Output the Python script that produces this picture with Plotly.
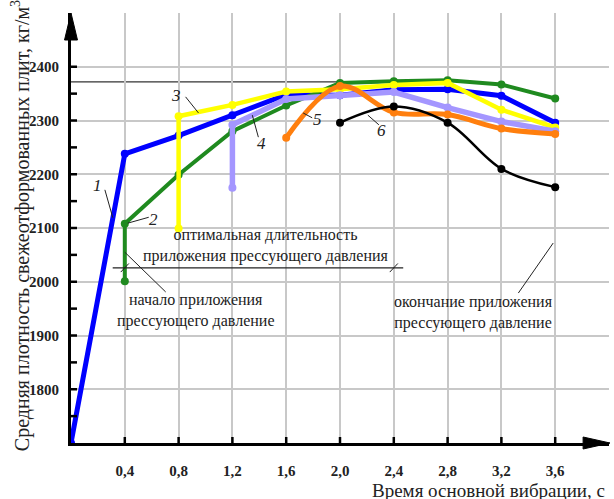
import plotly.graph_objects as go

# ---- data ----
x1 = [0, 0.4, 0.8, 1.2, 1.6, 2.0, 2.4, 2.8, 3.2, 3.6]
y1 = [1700, 2238, 2272, 2310, 2348, 2347, 2357, 2358, 2346, 2296]
x2 = [0.4, 0.4, 0.8, 1.2, 1.6, 2.0, 2.4, 2.8, 3.2, 3.6]
y2 = [2001, 2108, 2199, 2280, 2328, 2370, 2373, 2375, 2367, 2341]
x3 = [0.8, 0.8, 1.2, 1.6, 2.0, 2.4, 2.8, 3.2, 3.6]
y3 = [2099, 2308, 2329, 2354, 2358, 2366, 2370, 2320, 2287]
x4 = [1.2, 1.2, 1.6, 2.0, 2.4, 2.8, 3.2, 3.6]
y4 = [2175, 2292, 2340, 2347, 2353, 2324, 2298, 2280]
x5 = [1.6, 2.0, 2.4, 2.8, 3.2, 3.6]
y5 = [2268, 2364, 2315, 2311, 2285, 2275]
x6 = [2.0, 2.4, 2.8, 3.2, 3.6]
y6 = [2296, 2326, 2296, 2210, 2176]

x_tickvals = [0.4, 0.8, 1.2, 1.6, 2.0, 2.4, 2.8, 3.2, 3.6, 4.0]
x_ticktext = ["0,4", "0,8", "1,2", "1,6", "2,0", "2,4", "2,8", "3,2", "3,6", " "]
y_tickvals = [1800, 1900, 2000, 2100, 2200, 2300, 2400, 2500]
y_ticktext = ["1800", "1900", "2000", "2100", "2200", "2300", "2400", " "]
y_minor = [1750, 1800, 1850, 1900, 1950, 2000, 2050, 2100, 2150, 2200,
           2250, 2300, 2350, 2400]
x_major = [0.4, 0.8, 1.2, 1.6, 2.0, 2.4, 2.8, 3.2, 3.6]

optimal_level = 2372
optimal_end = 2.4
press_start = 0.4

SERIF = "Liberation Serif, Times New Roman, DejaVu Serif, serif"

series = [
    (x1, y1, "#0000ff", 5, "linear"),
    (x2, y2, "#1f8a1f", 4, "linear"),
    (x3, y3, "#ffff00", 4.5, "linear"),
    (x4, y4, "#a496ff", 5.5, "linear"),
    (x5, y5, "#ff7f0e", 5, "spline"),
    (x6, y6, "#000000", 2.5, "spline"),
]

fig = go.Figure()
for xs, ys, col, w, shp in series:
    fig.add_trace(go.Scatter(
        x=xs, y=ys, mode="lines+markers",
        line=dict(color=col, width=w, shape=shp, smoothing=1.0),
        marker=dict(color=col, size=8, symbol="circle"),
        showlegend=False, hoverinfo="skip"))

shapes = []
shapes.append(dict(type="line", xref="x", yref="y", x0=0, x1=optimal_end,
                   y0=optimal_level, y1=optimal_level,
                   line=dict(color="#333333", width=1.3), layer="below"))
shapes.append(dict(type="line", xref="x", yref="y", x0=optimal_end, x1=optimal_end,
                   y0=optimal_level, y1=2009,
                   line=dict(color="#222222", width=1.2), layer="below"))
shapes.append(dict(type="line", xref="x", yref="y", x0=0.31, x1=2.47,
                   y0=2026, y1=2026, line=dict(color="#222222", width=1.2)))
for xm in (press_start, optimal_end):
    shapes.append(dict(type="line", xref="x", yref="y",
                       x0=xm - 0.03, x1=xm + 0.03, y0=2026 - 8, y1=2026 + 8,
                       line=dict(color="#222222", width=1)))

# tick marks crossing the axes
for xv in x_major:
    shapes.append(dict(type="line", xref="x", yref="y", ysizemode="pixel",
                       yanchor=1700, x0=xv, x1=xv, y0=-6, y1=6,
                       line=dict(color="black", width=2.5)))
for yv in y_minor:
    shapes.append(dict(type="line", xref="x", yref="y", xsizemode="pixel",
                       xanchor=0, y0=yv, y1=yv, x0=-6, x1=6,
                       line=dict(color="black", width=2.5)))

# arrow heads
W, H = 540.0, 430.0
shapes.append(dict(type="path", xref="paper", yref="paper",
                   path=f"M 0 1.0 L {-6.5/W} {1-27/H} L {6.5/W} {1-27/H} Z",
                   fillcolor="black", line=dict(color="black", width=1)))
shapes.append(dict(type="path", xref="paper", yref="paper",
                   path=f"M {1+1/W} 0 L {1-26/W} {6/H} L {1-26/W} {-6/H} Z",
                   fillcolor="black", line=dict(color="black", width=1)))

# leader lines for labels
leaders = [
    (0.252, 2171, 0.311, 2119),
    (0.578, 2120, 0.422, 2109),
    (0.852, 2344, 0.948, 2314),
    (1.393, 2269, 1.348, 2310),
    (1.793, 2305, 1.726, 2314),
    (2.289, 2292, 2.207, 2310),
    (0.400, 2055, 0.704, 1981),
    (3.326, 1979, 3.585, 2072),
]
for a, b, c, d in leaders:
    shapes.append(dict(type="line", xref="x", yref="y", x0=a, y0=b, x1=c, y1=d,
                       line=dict(color="#222222", width=1)))

annotations = []
for txt, xa, ya in [("1", 0.20, 2180), ("2", 0.615, 2115), ("3", 0.78, 2347),
                    ("4", 1.42, 2258), ("5", 1.83, 2301), ("6", 2.31, 2282)]:
    annotations.append(dict(x=xa, y=ya, xref="x", yref="y", text=f"<i>{txt}</i>",
                            showarrow=False,
                            font=dict(family=SERIF, size=17, color="#222")))

for txt, xa, ya in [
        ("оптимальная длительность<br>приложения прессующего давления", 1.452, 2067),
        ("начало приложения<br>прессующего давление", 0.933, 1946),
        ("окончание приложения<br>прессующего давление", 2.993, 1943)]:
    annotations.append(dict(x=xa, y=ya, xref="x", yref="y", text=txt,
                            showarrow=False, align="center",
                            font=dict(family=SERIF, size=16, color="#222")))

annotations.append(dict(
    xref="paper", yref="paper", x=(20 - 71) / W, y=(443 - 226) / H,
    xanchor="center", yanchor="middle", textangle=-90, showarrow=False,
    text="Средняя плотность свежеотформованных плит, кг/м<sup>3</sup>",
    font=dict(family=SERIF, size=20, color="#222")))
annotations.append(dict(
    xref="paper", yref="paper", x=(609 - 71) / W, y=(443 - 490) / H,
    xanchor="right", yanchor="middle", showarrow=False,
    text="Время основной вибрации, с",
    font=dict(family=SERIF, size=19, color="#222")))

fig.update_layout(
    width=614, height=499,
    margin=dict(l=71, r=3, t=13, b=56),
    paper_bgcolor="white", plot_bgcolor="white",
    shapes=shapes, annotations=annotations,
    xaxis=dict(range=[0, 4.0], tickvals=x_tickvals, ticktext=x_ticktext,
               showgrid=True, gridcolor="#c8c8c8", gridwidth=1.5,
               showline=True, linecolor="black", linewidth=3,
               ticks="outside", ticklen=12, tickcolor="rgba(0,0,0,0)",
               zeroline=False,
               tickfont=dict(family=SERIF, size=15, color="#222", weight="bold")),
    yaxis=dict(range=[1700, 2500], tickvals=y_tickvals, ticktext=y_ticktext,
               showgrid=True, gridcolor="#c8c8c8", gridwidth=1.5,
               showline=True, linecolor="black", linewidth=3,
               ticks="outside", ticklen=6, tickcolor="rgba(0,0,0,0)",
               zeroline=False,
               tickfont=dict(family=SERIF, size=15, color="#222", weight="bold")),
)

fig.write_html("out.html", config={"displayModeBar": False},
               post_script="document.body.style.margin='0';document.body.style.padding='0';")
